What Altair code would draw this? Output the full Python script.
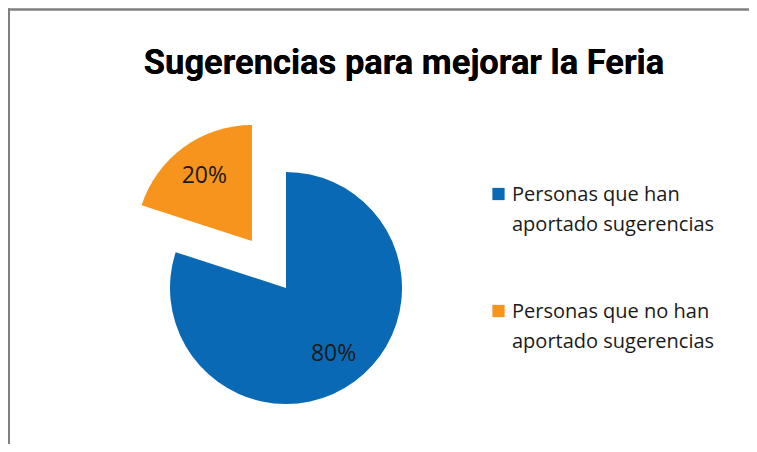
import math
import altair as alt
import pandas as pd

title = "Sugerencias para mejorar la Feria"
categories = ["Personas que han\naportado sugerencias", "Personas que no han\naportado sugerencias"]
values = [80, 20]
colors = ["#0A69B4", "#F7941D"]

df = pd.DataFrame({"category": categories, "value": values})

W, H = 741, 436
CX, CY, R = 278, 280, 116
EXPLODE = 58

total = sum(values)
mid_orange = (values[0] + values[1] / 2) / total * 2 * math.pi
dx = EXPLODE * math.sin(mid_orange)
dy = -EXPLODE * math.cos(mid_orange)

base = alt.Chart(df).transform_window(
    cum="sum(value)", frame=[None, 0]
).transform_calculate(
    start="datum.cum - datum.value",
    mid="datum.cum - datum.value / 2",
    label="datum.value + '%'",
)

theta_scale = alt.Scale(domain=[0, total], range=[0, 2 * math.pi])
color_scale = alt.Scale(domain=categories, range=colors)

def slice_layer(cat, x, y):
    sel = base.transform_filter(alt.datum.category == cat)
    arc = sel.mark_arc(radius=R, stroke=None).encode(
        theta=alt.Theta("start:Q", scale=theta_scale),
        theta2="cum:Q",
        color=alt.Color("category:N", scale=color_scale, legend=None),
        x=alt.value(x), y=alt.value(y),
    )
    txt = sel.mark_text(radius=81, font="Open Sans", fontSize=23, color="#1a1a1a").encode(
        theta=alt.Theta("mid:Q", scale=theta_scale),
        text="label:N",
        x=alt.value(x), y=alt.value(y),
    )
    return [arc, txt]

layers = slice_layer(categories[0], CX, CY) + slice_layer(categories[1], CX + dx, CY + dy)

legend_y = alt.Y("category:N", scale=alt.Scale(type="point", domain=categories, range=[193, 310], padding=0), axis=None)
legend_sq = base.mark_square(size=150, opacity=1).encode(
    x=alt.value(490.5),
    y=legend_y,
    yOffset=alt.value(-7),
    color=alt.Color("category:N", scale=color_scale, legend=None),
)
legend_txt = base.mark_text(
    align="left", baseline="alphabetic", lineBreak="\n", lineHeight=30,
    font="Open Sans", fontSize=20, color="#1a1a1a"
).encode(
    x=alt.value(504),
    y=legend_y,
    text="category:N",
)

title_mark = alt.Chart(df).mark_text(
    align="center", baseline="alphabetic", font="Roboto",
    fontSize=34.5, fontWeight="bold", color="#000000"
).encode(x=alt.value(396), y=alt.value(66), text=alt.value(title))

frame_left = alt.Chart(df).mark_rule(color="#808080", strokeWidth=2).encode(
    x=alt.value(1), y=alt.value(0.5), y2=alt.value(H)
)
frame_top = alt.Chart(df).mark_rule(color="#808080", strokeWidth=2).encode(
    x=alt.value(0), x2=alt.value(W), y=alt.value(1.5)
)

chart = alt.layer(frame_left, frame_top, title_mark, *layers, legend_sq, legend_txt).properties(
    width=W, height=H, padding=0, autosize=alt.AutoSizeParams(type="none")
).configure_view(stroke=None)

chart.save("out.html", embed_options={"renderer": "svg", "actions": False})
